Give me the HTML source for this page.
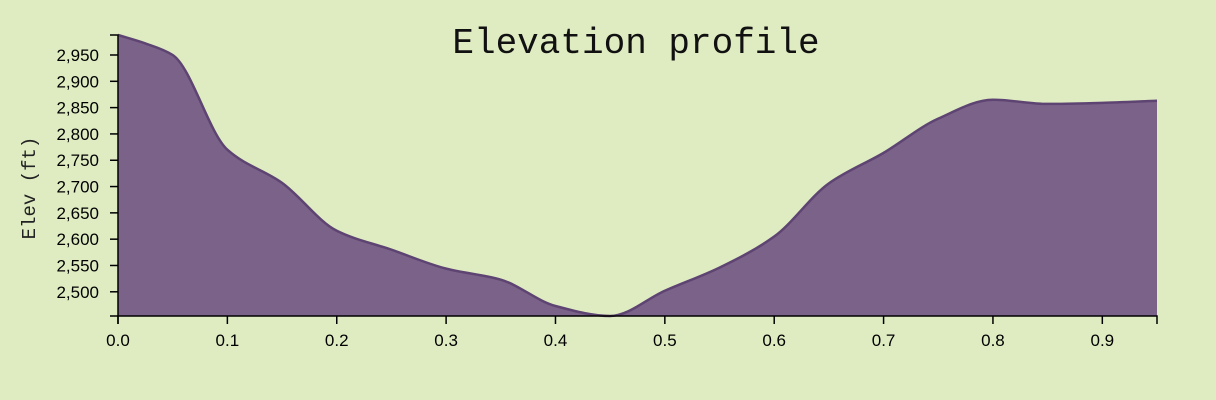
<!DOCTYPE html>
<html><head><meta charset="utf-8"><style>
body{margin:0;background:#dfecc2;}
svg{display:block;}
</style></head><body>
<svg width="1216" height="400">
<rect width="1216" height="400" fill="#dfecc2"/>
<text x="636" y="53" text-anchor="middle" font-family="Liberation Mono, monospace" font-size="36" fill="#111">Elevation profile</text>
<text transform="translate(35,188) rotate(-90)" text-anchor="middle" font-family="Liberation Mono, monospace" font-size="19" fill="#222">Elev (ft)</text>
<g id="plot"></g>
</svg>
<script>
const distances=[0,0.025,0.05,0.1,0.15,0.2,0.25,0.3,0.35,0.4,0.45,0.5,0.55,0.6,0.65,0.7,0.75,0.8,0.85,0.9,0.95];
const elevations=[2988,2972,2950,2770,2707,2616,2580,2544,2523,2473,2454,2502,2546,2605,2706,2764,2829,2865,2857,2859,2863];
const xTicks=[0,0.1,0.2,0.3,0.4,0.5,0.6,0.7,0.8,0.9];
const yTicks=[2500,2550,2600,2650,2700,2750,2800,2850,2900,2950];
const L=118,R=1157,T=35,B=316;
const xMin=Math.min(...distances),xMax=Math.max(...distances);
const yMin=Math.min(...elevations),yMax=Math.max(...elevations);
const xs=v=>L+(v-xMin)/(xMax-xMin)*(R-L);
const ys=v=>B-(v-yMin)/(yMax-yMin)*(B-T);
const NS="http://www.w3.org/2000/svg";
const g=document.getElementById('plot');
function mk(t,a){const e=document.createElementNS(NS,t);for(const k in a)e.setAttribute(k,a[k]);g.appendChild(e);return e;}
const px=distances.map(xs),py=elevations.map(ys);
const n=px.length;const d=[],m=[];
for(let i=0;i<n-1;i++)d.push((py[i+1]-py[i])/(px[i+1]-px[i]));
m[0]=d[0];m[n-1]=d[n-2];
for(let i=1;i<n-1;i++){if(d[i-1]*d[i]<=0)m[i]=0;else{const h0=px[i]-px[i-1],h1=px[i+1]-px[i];m[i]=3*(h0+h1)/((2*h1+h0)/d[i-1]+(h1+2*h0)/d[i]);}}
let line=`M${px[0]},${py[0]}`;
for(let i=0;i<n-1;i++){const h=(px[i+1]-px[i])/3;line+=` C${px[i]+h},${py[i]+m[i]*h} ${px[i+1]-h},${py[i+1]-m[i+1]*h} ${px[i+1]},${py[i+1]}`;}
const area=mk('path',{d:line+` L${px[n-1]},${B} L${px[0]},${B} Z`,fill:'#7b6288'});


const ln=mk('path',{d:line,fill:'none',stroke:'#5e4472','stroke-width':2.5,'stroke-linejoin':'round'});


const xa=mk('path',{d:`M${L},${B+8}V${B}H${R}V${B+8}`,fill:'none',stroke:'#000','stroke-width':1.5});


const ya=mk('path',{d:`M${L-8},${T}H${L}V${B}H${L-8}`,fill:'none',stroke:'#000','stroke-width':1.5});


xTicks.forEach(v=>{const x=xs(v);
const t=mk('line',{x1:x,x2:x,y1:B,y2:B+8,stroke:'#000','stroke-width':1.5});


const tx=mk('text',{x:x,y:B+30,'text-anchor':'middle','font-family':'Liberation Sans, sans-serif','font-size':17});
tx.textContent=v.toFixed(1);

});
yTicks.forEach(v=>{const y=ys(v);
const t=mk('line',{x1:L-8,x2:L,y1:y,y2:y,stroke:'#000','stroke-width':1.5});


const tx=mk('text',{x:L-19,y:y+6,'text-anchor':'end','font-family':'Liberation Sans, sans-serif','font-size':17});
tx.textContent=v.toLocaleString('en-US');

});
</script>
</body></html>
